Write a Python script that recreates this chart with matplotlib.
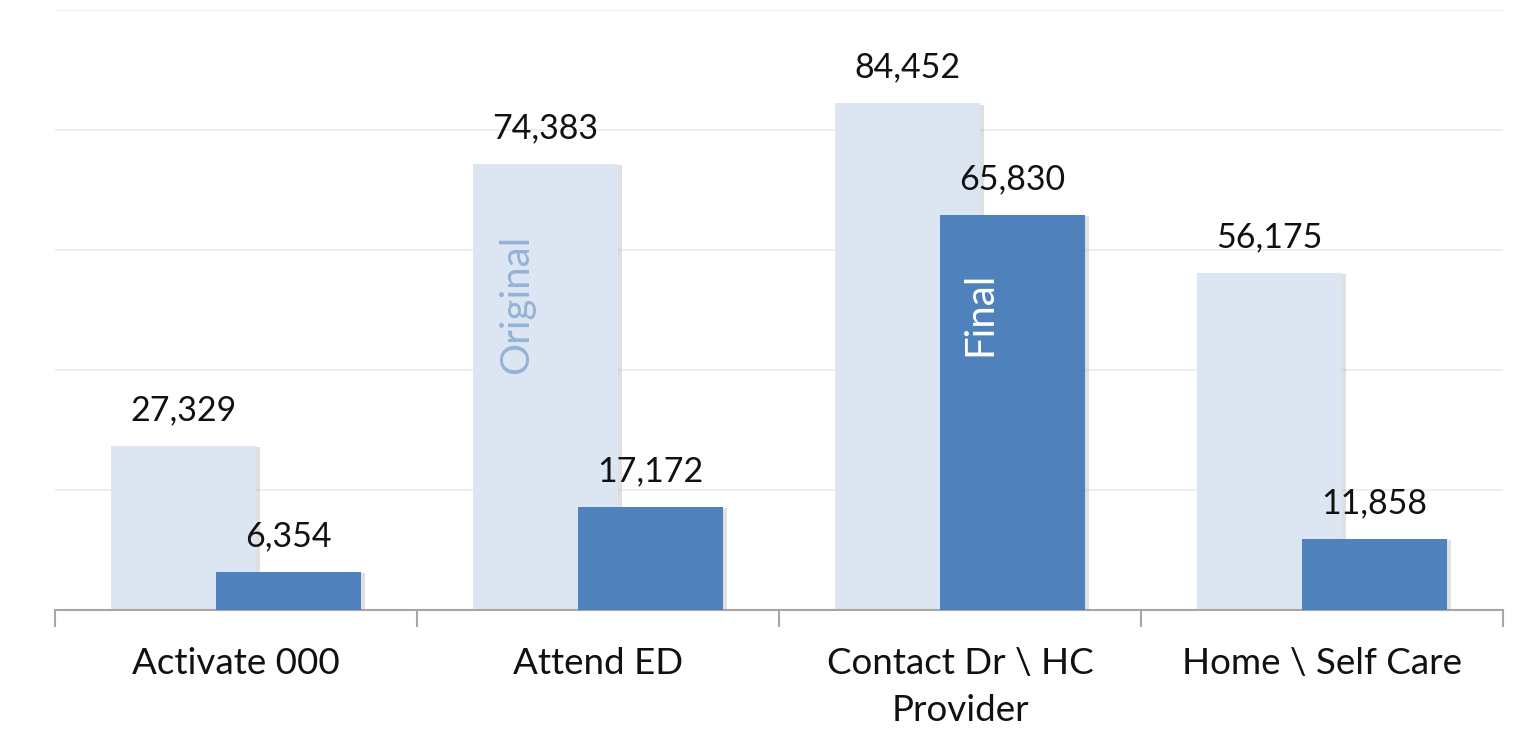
import matplotlib
matplotlib.use("Agg")
import matplotlib.pyplot as plt
import matplotlib.patheffects as pe
import numpy as np

categories = ["Activate 000", "Attend ED", "Contact Dr \\ HC\nProvider", "Home \\ Self Care"]
original = [27329, 74383, 84452, 56175]
final = [6354, 17172, 65830, 11858]

plt.rcParams["font.family"] = ["Lato", "DejaVu Sans"]

fig = plt.figure(figsize=(15.28, 7.41), dpi=100)
ax = fig.add_axes([55 / 1528, (741 - 610) / 741, (1503 - 55) / 1528, 600 / 741])

x = np.arange(len(categories))
width = 0.40
offset = 0.145

shadow = [pe.SimplePatchShadow(offset=(3, -1), shadow_rgbFace="#9a9a9a", alpha=0.3), pe.Normal()]

bars_o = ax.bar(x - offset, original, width, color="#dce6f2", zorder=2)
bars_f = ax.bar(x + offset, final, width, color="#4f81bd", zorder=3)
for b in list(bars_o) + list(bars_f):
    b.set_path_effects(shadow)

for xi, v in zip(x - offset, original):
    ax.text(xi, v + 3300, f"{v:,}", ha="center", va="bottom", fontsize=24.5, color="#111111", zorder=4)
for xi, v in zip(x + offset, final):
    ax.text(xi, v + 3300, f"{v:,}", ha="center", va="bottom", fontsize=24.5, color="#111111", zorder=4)

# series names written inside one bar of each series
ax.text(1 - offset - 0.08, 51000, "Original", rotation=90, ha="center", va="center",
        fontsize=29, color="#95b3d7", zorder=4)
ax.text(2 + offset - 0.09, 49300, "Final", rotation=90, ha="center", va="center",
        fontsize=29, color="white", zorder=4)

ax.set_xlim(-0.5, len(categories) - 0.5)
ax.set_ylim(0, 100000)
ax.set_yticks(np.arange(0, 100001, 20000))
ax.yaxis.grid(True, color="#efefef", linewidth=1.5, zorder=0)
ax.set_axisbelow(True)
ax.tick_params(axis="y", left=False, labelleft=False)

ax.set_xticks(x)
ax.set_xticklabels(categories, fontsize=26.5, color="#111111", linespacing=1.5)
ax.tick_params(axis="x", which="major", length=0, pad=27)
ax.set_xticks(np.arange(-0.5, len(categories), 1.0), minor=True)
ax.tick_params(axis="x", which="minor", length=12, width=1.5, color="#a6a6a6")

for s in ["top", "right", "left"]:
    ax.spines[s].set_visible(False)
ax.spines["bottom"].set_color("#a6a6a6")
ax.spines["bottom"].set_linewidth(1.5)

fig.savefig("out.png", dpi=100)
